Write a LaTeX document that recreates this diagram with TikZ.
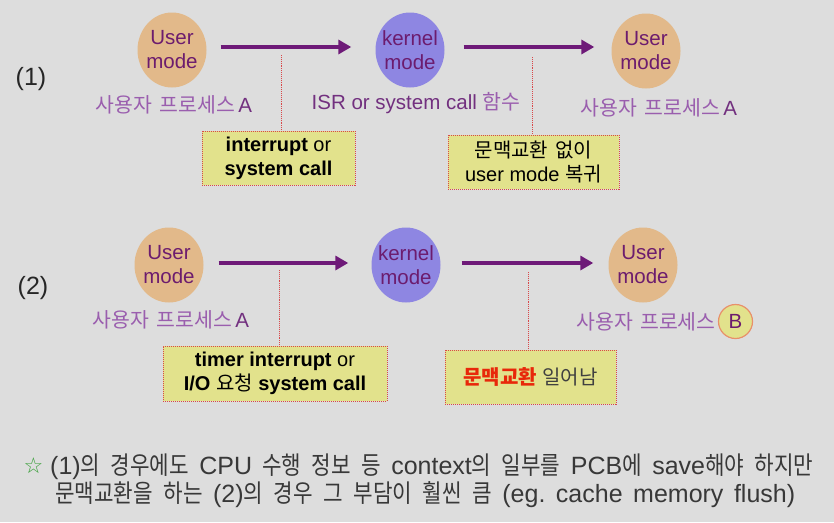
\documentclass[tikz,border=0pt]{standalone}
\usepackage{fontspec}
\setmainfont{Liberation Sans}
\newfontfamily\krfont[WordSpace=1.6]{Noto Sans CJK KR}
\newfontfamily\krnote[FakeStretch=0.85]{Noto Sans CJK KR}
\newfontfamily\symfont{DejaVu Sans}
\usetikzlibrary{shapes.geometric,positioning,arrows.meta}
\definecolor{bgray}{HTML}{DDDDDD}
\definecolor{usercol}{HTML}{E2B98A}
\definecolor{kernelcol}{HTML}{8E86E2}
\definecolor{modetext}{HTML}{6C1C6E}
\definecolor{arrowcol}{HTML}{6E1A78}
\definecolor{labelcol}{HTML}{72307F}
\definecolor{klcol}{HTML}{9A5EAE}
\definecolor{boxfill}{HTML}{E2E28C}
\definecolor{boxline}{HTML}{D8484A}
\definecolor{notecol}{HTML}{383838}
\definecolor{starcol}{HTML}{3CA03C}
\definecolor{redword}{HTML}{E8280A}
\definecolor{bline}{HTML}{E8906A}
\newcommand{\kl}[1]{{\krfont\color{klcol}#1}}
\newcommand{\kb}[1]{{\krfont #1}}
\newcommand{\kn}[1]{{\krnote #1}}
\newcommand{\noteline}[2]{\makebox[#1][s]{\spaceskip=6pt plus 1fil\xspaceskip=6pt plus 1fil #2}}
\tikzset{
  modecircle/.style={ellipse,minimum width=69pt,minimum height=75pt,inner xsep=-6pt,inner ysep=0pt,
    align=center,text=modetext,font=\fontsize{20.5}{24}\selectfont},
  usermode/.style={modecircle,fill=usercol},
  kernelmode/.style={modecircle,fill=kernelcol},
  proclabel/.style={text=labelcol,font=\fontsize{20.5}{24}\selectfont,inner sep=0pt},
  flow/.style={draw=arrowcol,line width=3.5pt,-{Triangle[length=13pt,width=14pt]}},
  tick/.style={draw=boxline,line width=0.9pt,densely dotted},
  notebox/.style={draw=boxline,line width=1pt,densely dotted,fill=boxfill,align=center,
    inner sep=0pt,font=\fontsize{20}{24}\selectfont,text=black},
  rowlabel/.style={font=\fontsize{25}{28}\selectfont,text=black!85},
  notetext/.style={anchor=west,inner sep=0pt,text=notecol,font=\fontsize{25}{29}\selectfont}
}

\begin{document}
\begin{tikzpicture}[x=1pt,y=-1pt]
\fill[bgray] (0,0) rectangle (834,522);
\useasboundingbox (0,0) rectangle (834,522);
\node[rowlabel] (r1) at (31,79) {(1)};
\node[rowlabel] (r2) at (33,288) {(2)};
\node[usermode] (u1) at (172,50) {User\\mode};
\node[kernelmode] (k1) at (410,50) {kernel\\mode};
\node[usermode] (u2) at (646,51) {User\\mode};
\node[proclabel] (p1) at (174,105) {\kl{사용자 프로세스}\hspace{3pt}A};
\node[proclabel] (p2) at (416,103) {ISR or system call \kl{함수}};
\node[proclabel] (p3) at (659,108) {\kl{사용자 프로세스}\hspace{3pt}A};
\draw[flow,shorten <=14pt,shorten >=24pt] ([yshift=3pt]u1.east) -- ([yshift=3pt]k1.west);
\draw[flow,shorten <=19pt,shorten >=17pt] ([yshift=3pt]k1.east) -- ([yshift=3pt]k1.east -| u2.west);
\node[notebox,minimum width=153pt,minimum height=54pt] (b1) at (278.5,158) {\textbf{interrupt} or\\\textbf{system call}};
\node[notebox,minimum width=171pt,minimum height=54pt] (b2) at (533.5,162) {\kb{문맥교환 없이}\\user mode \kb{복귀}};
\coordinate (m1) at (281,55);
\coordinate (m2) at (532,57);
\draw[tick] (m1) -- (m1 |- b1.north);
\draw[tick] (m2) -- (m2 |- b2.north);
\node[usermode] (u3) at (169,265) {User\\mode};
\node[kernelmode] (k2) at (406,265) {kernel\\mode};
\node[usermode] (u4) at (643,265) {User\\mode};
\node[proclabel] (p4) at (171,320) {\kl{사용자 프로세스}\hspace{3pt}A};
\node[circle,draw=bline,line width=1.2pt,fill=boxfill,minimum size=34pt,inner sep=0pt,
  font=\fontsize{20.5}{24}\selectfont,text=modetext] (bb) at (735.5,321.5) {B};
\node[proclabel,left=2pt of bb] (p5) {\kl{사용자 프로세스}};
\draw[flow,shorten <=15pt,shorten >=23pt] ([yshift=2pt]u3.east) -- ([yshift=2pt]k2.west);
\draw[flow,shorten <=21pt,shorten >=15pt] ([yshift=2pt]k2.east) -- ([yshift=2pt]u4.west);
\node[notebox,minimum width=224pt,minimum height=55pt] (b3) at (275,373.5) {\textbf{timer interrupt} or\\\textbf{I/O} \kb{요청} \textbf{system call}};
\node[notebox,minimum width=171pt,minimum height=54pt] (b4) at (530.5,377) {\textcolor{redword}{\kb{\bfseries 문맥교환}} \textcolor{black!75}{\kb{일어남}}};
\coordinate (m3) at (279,270);
\coordinate (m4) at (528,272);
\draw[tick] (m3) -- (m3 |- b3.north);
\draw[tick] (m4) -- (m4 |- b4.north);
\node[text=starcol,font=\symfont\fontsize{22}{24}\selectfont,inner sep=0pt] (st) at (33.5,466) {☆};
\node[notetext] (n1) at (50,467) {\noteline{763pt}{(1)\kn{의 경우에도} CPU \kn{수행 정보 등} context\kn{의 일부를} PCB\kn{에} save\kn{해야 하지만}}};
\node[notetext] (n2) at (55,495) {\noteline{740pt}{\kn{문맥교환을 하는} (2)\kn{의 경우 그 부담이 훨씬 큼} (eg. cache memory flush)}};
\end{tikzpicture}
\end{document}
